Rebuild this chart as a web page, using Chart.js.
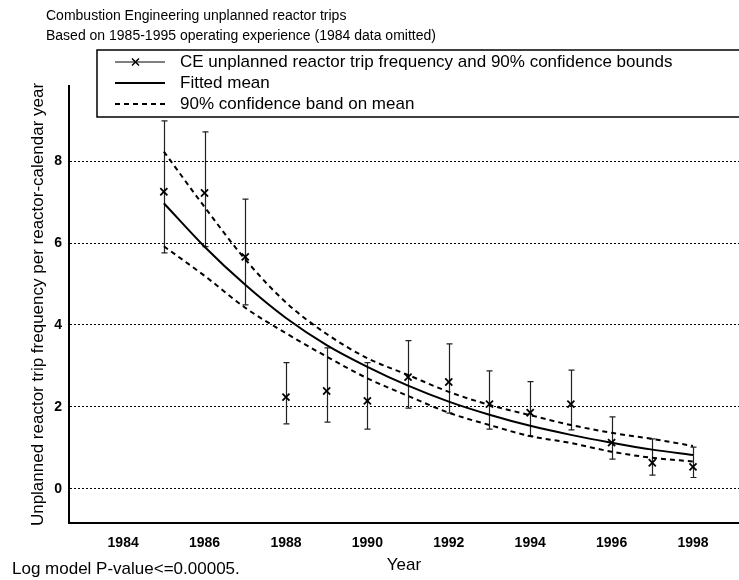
<!DOCTYPE html>
<html>
<head>
<meta charset="utf-8">
<script src="https://cdn.jsdelivr.net/npm/chart.js@4.4.0/dist/chart.umd.min.js"></script>
<style>
  body { margin: 0; background: #fff; overflow: hidden; }
  #wrap { position: relative; width: 739px; height: 580px; font-family: "Liberation Sans", Arial, sans-serif; color: #000; }
  #tripChart { display: block; }
  .txt { position: absolute; white-space: nowrap; line-height: 1; }
</style>
</head>
<body>
<div id="wrap">
  <canvas id="tripChart" width="739" height="580"></canvas>
  <div class="txt" style="left:46px; top:8px; font-size:14px;">Combustion Engineering unplanned reactor trips</div>
  <div class="txt" style="left:46px; top:28px; font-size:14px;">Based on 1985-1995 operating experience (1984 data omitted)</div>
  <div class="txt" style="left:12px; top:560px; font-size:17px;">Log model P-value&lt;=0.00005.</div>
</div>
<script>
// CE unplanned reactor trips
const years = [1985, 1986, 1987, 1988, 1989, 1990, 1991, 1992, 1993, 1994, 1995, 1996, 1997, 1998];
const tripRate = [7.25, 7.22, 5.66, 2.24, 2.39, 2.15, 2.73, 2.61, 2.07, 1.86, 2.07, 1.13, 0.64, 0.54];
const tripLow = [5.76, 5.91, 4.49, 1.59, 1.63, 1.46, 1.97, 1.85, 1.46, 1.29, 1.44, 0.73, 0.34, 0.28];
const tripHigh = [8.98, 8.71, 7.07, 3.08, 3.44, 3.08, 3.62, 3.54, 2.88, 2.62, 2.90, 1.76, 1.22, 1.02];
const fittedMean = [6.97, 5.91, 4.98, 4.17, 3.51, 2.98, 2.52, 2.13, 1.81, 1.54, 1.32, 1.13, 0.96, 0.83];
const bandUpper = [8.23, 6.88, 5.60, 4.55, 3.78, 3.19, 2.78, 2.37, 2.05, 1.80, 1.56, 1.37, 1.22, 1.05];
const bandLower = [5.92, 5.20, 4.42, 3.80, 3.23, 2.70, 2.27, 1.86, 1.56, 1.29, 1.12, 0.91, 0.76, 0.67];
const xTicks = [1984, 1986, 1988, 1990, 1992, 1994, 1996, 1998];
const yTicks = [0, 2, 4, 6, 8];

const fontName = '"Liberation Sans", Arial, sans-serif';
const pts = (arr) => years.map((yr, i) => ({ x: yr, y: arr[i] }));

// vertical 90% bounds with small caps
const errorBars = {
  id: 'errorBars',
  beforeDatasetsDraw(chart) {
    const { ctx, scales: { x, y } } = chart;
    ctx.save();
    ctx.strokeStyle = '#222';
    ctx.lineWidth = 1.2;
    years.forEach((yr, i) => {
      const px = Math.round(x.getPixelForValue(yr)) + 0.5;
      const top = y.getPixelForValue(tripHigh[i]);
      const bot = y.getPixelForValue(tripLow[i]);
      ctx.beginPath();
      ctx.moveTo(px, top); ctx.lineTo(px, bot);
      ctx.moveTo(px - 3, top); ctx.lineTo(px + 3, top);
      ctx.moveTo(px - 3, bot); ctx.lineTo(px + 3, bot);
      ctx.stroke();
    });
    ctx.restore();
  }
};

// boxed legend in the upper part of the figure
const boxLegend = {
  id: 'boxLegend',
  afterDraw(chart) {
    const ctx = chart.ctx;
    const rows = [62, 83, 104];
    ctx.save();
    ctx.fillStyle = '#fff';
    ctx.fillRect(97, 50, 660, 67);
    ctx.strokeStyle = '#000';
    ctx.lineWidth = 1.5;
    ctx.strokeRect(97, 50, 660, 67);
    rows.forEach((ry, i) => {
      const ds = chart.data.datasets[i];
      ctx.strokeStyle = '#000';
      ctx.lineWidth = i === 0 ? 1 : ds.borderWidth;
      ctx.setLineDash(ds.borderDash || []);
      ctx.beginPath();
      ctx.moveTo(115, ry); ctx.lineTo(165, ry);
      ctx.stroke();
      ctx.setLineDash([]);
      if (i === 0) {
        ctx.lineWidth = 1.5;
        ctx.beginPath();
        ctx.moveTo(132, ry - 3.5); ctx.lineTo(139, ry + 3.5);
        ctx.moveTo(132, ry + 3.5); ctx.lineTo(139, ry - 3.5);
        ctx.stroke();
      }
      ctx.fillStyle = '#000';
      ctx.font = '17px ' + fontName;
      ctx.textBaseline = 'middle';
      ctx.fillText(ds.label, 180, ry);
    });
    ctx.restore();
  }
};

const tripCanvas = document.getElementById('tripChart');
new Chart(tripCanvas, {
  type: 'line',
  data: {
    datasets: [
      {
        label: 'CE unplanned reactor trip frequency and 90% confidence bounds',
        data: pts(tripRate),
        showLine: false,
        pointStyle: 'crossRot',
        pointRadius: 5,
        pointBorderWidth: 1.8,
        borderColor: '#000',
        backgroundColor: '#000'
      },
      {
        label: 'Fitted mean',
        data: pts(fittedMean),
        borderColor: '#000',
        borderWidth: 2,
        pointRadius: 0,
        cubicInterpolationMode: 'monotone'
      },
      {
        label: '90% confidence band on mean',
        data: pts(bandUpper),
        borderColor: '#000',
        borderWidth: 2,
        borderDash: [5, 4],
        pointRadius: 0,
        cubicInterpolationMode: 'monotone'
      },
      {
        label: 'lower band',
        data: pts(bandLower),
        borderColor: '#000',
        borderWidth: 2,
        borderDash: [5, 4],
        pointRadius: 0,
        cubicInterpolationMode: 'monotone'
      }
    ]
  },
  options: {
    responsive: false,
    animation: false,
    layout: {
      autoPadding: false,
      padding: { top: 86, left: 0, right: 0, bottom: 0 }
    },
    plugins: {
      legend: { display: false },
      tooltip: { enabled: false }
    },
    scales: {
      x: {
        type: 'linear',
        min: 1982.67,
        max: 1999.13,
        afterBuildTicks: (scale) => { scale.ticks = xTicks.map(v => ({ value: v })); },
        afterFit: (scale) => {
          scale.height = 57;
          scale.paddingLeft = 0;
          scale.paddingRight = 0;
        },
        grid: { display: false },
        border: { display: true, color: '#000', width: 2 },
        ticks: {
          color: '#000',
          padding: 4,
          maxRotation: 0,
          callback: (v) => String(v),
          font: { family: fontName, size: 14, weight: 'bold' }
        },
        title: {
          display: true,
          text: 'Year',
          color: '#000',
          padding: { top: 0, bottom: 4 },
          font: { family: fontName, size: 17 }
        }
      },
      y: {
        min: -0.83,
        max: 9.83,
        afterBuildTicks: (scale) => { scale.ticks = yTicks.map(v => ({ value: v })); },
        afterFit: (scale) => { scale.width = 69; },
        grid: {
          color: '#000',
          lineWidth: 1,
          drawTicks: false
        },
        border: { display: true, color: '#000', width: 2, dash: [2, 2] },
        ticks: {
          color: '#000',
          padding: 7,
          font: { family: fontName, size: 14, weight: 'bold' }
        },
        title: {
          display: true,
          text: 'Unplanned reactor trip frequency per reactor-calendar year',
          color: '#000',
          padding: { top: 28, bottom: 0 },
          font: { family: fontName, size: 17 }
        }
      }
    }
  },
  plugins: [errorBars, boxLegend]
});
</script>
</body>
</html>
